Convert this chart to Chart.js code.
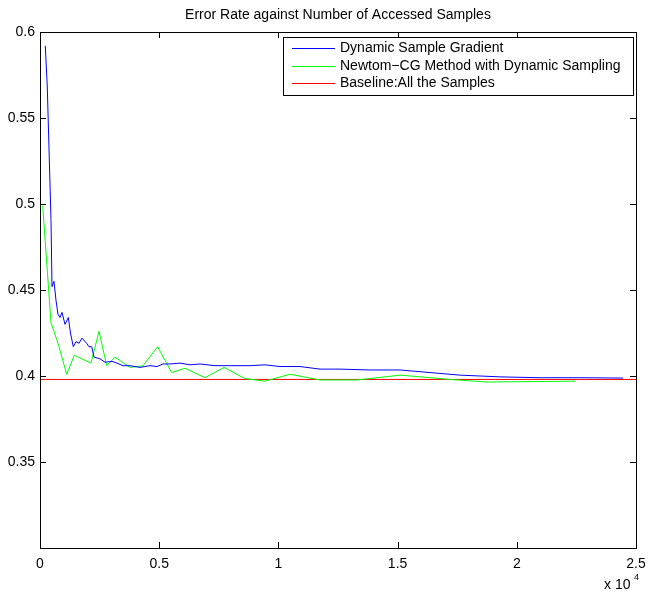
<!DOCTYPE html>
<html><head><meta charset="utf-8">
<script src="https://cdn.jsdelivr.net/npm/chart.js@4/dist/chart.umd.min.js"></script>
<style>html,body{margin:0;padding:0;background:#fff}#w{width:649px;height:593px}</style>
</head><body><div id="w"><canvas id="c" width="649" height="593"></canvas></div>
<script>
const titleText = 'Error Rate against Number of Accessed Samples';
const seriesLabels = ['Dynamic Sample Gradient', 'Newtom\u2212CG Method with Dynamic Sampling', 'Baseline:All the Samples'];
const xTicks = [0, 5000, 10000, 15000, 20000, 25000];
const yTicks = [0.3, 0.35, 0.4, 0.45, 0.5, 0.55, 0.6];

const dsgX = [222,306,461,503,587,671,755,839,923,1049,1187,1279,1397,1510,1636,1762,1959,2055,2169,2265,2517,2727,3020,3230,3482,3775,4195,4614,4908,5159,5453,5872,6292,6711,7341,7970,8809,9438,10067,10906,11745,12584,13842,15101,16359,17617,19295,20973,22651,24455];
const dsgY = [0.592,0.568,0.491,0.452,0.455,0.444,0.436,0.434,0.437,0.430,0.434,0.425,0.417,0.420,0.419,0.422,0.419,0.417,0.417,0.411,0.410,0.408,0.4085,0.4075,0.406,0.406,0.405,0.406,0.4055,0.407,0.407,0.4075,0.4065,0.407,0.406,0.406,0.406,0.4065,0.4055,0.4055,0.404,0.404,0.4035,0.4035,0.402,0.4005,0.3995,0.399,0.399,0.3988];

const ncgX = [113,461,755,1120,1439,2139,2475,2798,3146,3775,4321,4937,5524,6082,6921,7718,8599,9438,10487,11745,13297,15101,17198,18750,22441];
const ncgY = [0.499,0.431,0.419,0.401,0.412,0.4075,0.426,0.406,0.411,0.405,0.406,0.417,0.402,0.4045,0.399,0.405,0.3985,0.397,0.401,0.3977,0.3977,0.4005,0.398,0.3965,0.397];

const baseX = [0, 25000];
const baseY = [0.398, 0.398];

const pts = (xs, ys) => xs.map((x, i) => ({x, y: ys[i]}));
const FONT = '"Liberation Sans", Arial, sans-serif';

const decor = {
  id: 'decor',
  afterDraw(chart) {
    const ctx = chart.ctx, a = chart.chartArea;
    const xs = chart.scales.x, ys = chart.scales.y;
    ctx.save();
    ctx.strokeStyle = '#000'; ctx.lineWidth = 1;
    ctx.beginPath();
    xTicks.forEach(v => {
      const p = Math.round(xs.getPixelForValue(v)) + 0.5;
      ctx.moveTo(p, a.bottom); ctx.lineTo(p, a.bottom - 6);
      ctx.moveTo(p, a.top); ctx.lineTo(p, a.top + 6);
    });
    yTicks.forEach(v => {
      const p = Math.round(ys.getPixelForValue(v)) + 0.5;
      ctx.moveTo(a.left, p); ctx.lineTo(a.left + 6, p);
      ctx.moveTo(a.right, p); ctx.lineTo(a.right - 6, p);
    });
    ctx.stroke();
    ctx.strokeRect(Math.round(a.left) + 0.5, Math.round(a.top) + 0.5, Math.round(a.right - a.left), Math.round(a.bottom - a.top));
    // title
    ctx.fillStyle = '#000';
    ctx.font = '14px ' + FONT;
    ctx.textAlign = 'center'; ctx.textBaseline = 'middle';
    ctx.fillText(titleText, (a.left + a.right) / 2, 15);
    // exponent
    ctx.textAlign = 'left';
    ctx.font = '14px ' + FONT;
    ctx.fillText('x 10', 604, 585);
    ctx.font = '9px ' + FONT;
    ctx.fillText('4', 634, 578);
    // legend
    const bx = 283.5, by = 37.5, bw = 350, bh = 58;
    ctx.fillStyle = '#fff';
    ctx.fillRect(bx, by, bw, bh);
    ctx.strokeStyle = '#000';
    ctx.strokeRect(bx, by, bw, bh);
    ctx.font = '14px ' + FONT;
    ctx.textBaseline = 'middle';
    chart.data.datasets.forEach((d, i) => {
      const y = Math.round(48 + i * 17.5);
      ctx.strokeStyle = d.borderColor; ctx.lineWidth = 1;
      ctx.beginPath(); ctx.moveTo(292, y + 0.5); ctx.lineTo(335, y + 0.5); ctx.stroke();
      ctx.fillStyle = '#000';
      ctx.fillText(d.label, 340, y + 0.5);
    });
    ctx.restore();
  }
};

new Chart(document.getElementById('c'), {
  type: 'line',
  data: {
    datasets: [
      {label: seriesLabels[0], data: pts(dsgX, dsgY), borderColor: '#0000ff', borderWidth: 1, pointRadius: 0, tension: 0, fill: false},
      {label: seriesLabels[1], data: pts(ncgX, ncgY), borderColor: '#00ff00', borderWidth: 1, pointRadius: 0, tension: 0, fill: false},
      {label: seriesLabels[2], data: pts(baseX, baseY), borderColor: '#ff0000', borderWidth: 1, pointRadius: 0, tension: 0, fill: false}
    ]
  },
  options: {
    responsive: false, animation: false,
    layout: {padding: {top: 32, right: 13, left: 0, bottom: 0}},
    plugins: {legend: {display: false}, title: {display: false}, tooltip: {enabled: false}},
    scales: {
      x: {
        type: 'linear', min: 0, max: 25000,
        afterBuildTicks: s => { s.ticks = xTicks.map(v => ({value: v})); },
        afterFit: s => { s.height = 45; s.paddingRight = 0; s.paddingLeft = 0; },
        grid: {display: false, drawTicks: false},
        border: {display: false},
        ticks: {color: '#000', font: {size: 14, family: FONT}, padding: 8, maxRotation: 0,
          callback: v => String(v / 10000)}
      },
      y: {
        type: 'linear', min: 0.3, max: 0.6,
        afterBuildTicks: s => { s.ticks = yTicks.map(v => ({value: v})); },
        afterFit: s => { s.width = 40; s.paddingTop = 0; s.paddingBottom = 0; },
        grid: {display: false, drawTicks: false},
        border: {display: false},
        ticks: {color: '#000', font: {size: 14, family: FONT}, padding: 5,
          callback: v => (Math.abs(v - 0.3) < 1e-9 ? '' : String(+v.toFixed(2)))}
      }
    }
  },
  plugins: [decor]
});
</script></body></html>
